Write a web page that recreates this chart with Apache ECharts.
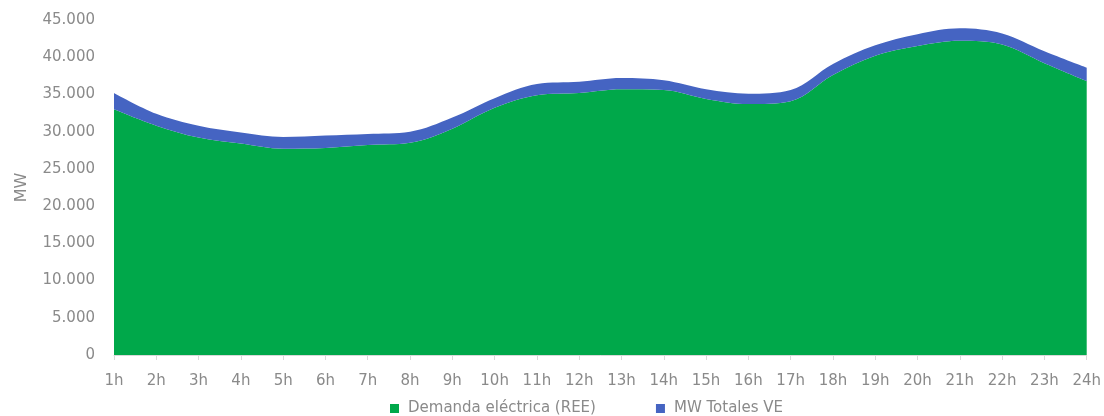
<!DOCTYPE html>
<html>
<head>
<meta charset="utf-8">
<script src="https://cdn.jsdelivr.net/npm/echarts@6/dist/echarts.min.js"></script>
<style>
  html, body { margin: 0; padding: 0; background: #fff; }
  #chart { width: 1104px; height: 416px; }
</style>
</head>
<body>
<div id="chart"></div>
<script>
// horas del día
const hours = ['1h', '2h', '3h', '4h', '5h', '6h', '7h', '8h', '9h', '10h', '11h', '12h',
  '13h', '14h', '15h', '16h', '17h', '18h', '19h', '20h', '21h', '22h', '23h', '24h']
// demanda eléctrica (REE), MW
const demanda = [33000, 30800, 29200, 28400, 27700, 27800, 28200, 28500, 30400, 33200, 34900, 35200,
  35700, 35600, 34400, 33700, 34100, 37600, 40200, 41500, 42200, 41700, 39200, 36800]
// MW totales VE (se apila encima)
const totalesVE = [2200, 1600, 1600, 1500, 1600, 1700, 1500, 1500, 1500, 1300, 1500, 1500,
  1500, 1300, 1300, 1400, 1500, 1500, 1400, 1600, 1700, 1500, 1600, 1800]

const chart = echarts.init(document.getElementById('chart'))

// formato español: 45.000
function miles(v) {
  return String(v).replace(/\B(?=(\d{3})+(?!\d))/g, '.')
}

const txt = '#8a8a8a'
const fuente = '"DejaVu Sans", sans-serif'

const option = {
  animation: false,
  textStyle: { fontFamily: fuente },
  grid: { left: 114, right: 16, top: 20, bottom: 61 },
  legend: {
    left: 385,
    top: 396,
    icon: 'rect',
    itemWidth: 9,
    itemHeight: 9,
    itemGap: 60,
    textStyle: { color: txt, fontSize: 15, fontFamily: fuente, padding: [0, 0, 0, 4] },
    data: ['Demanda eléctrica (REE)', 'MW Totales VE']
  },
  xAxis: {
    type: 'category',
    boundaryGap: false,
    data: hours,
    axisLine: { lineStyle: { color: '#d9d9d9' } },
    axisTick: { show: true, length: 5, lineStyle: { color: '#d9d9d9' } },
    axisLabel: { color: txt, fontSize: 15, margin: 19, fontFamily: fuente }
  },
  yAxis: {
    type: 'value',
    min: 0,
    max: 45000,
    interval: 5000,
    name: 'MW',
    nameLocation: 'middle',
    nameGap: 84,
    nameTextStyle: { color: txt, fontSize: 16, fontFamily: fuente },
    splitLine: { show: false },
    axisLine: { show: false },
    axisTick: { show: false },
    axisLabel: { color: txt, fontSize: 15, margin: 19, fontFamily: fuente, formatter: miles }
  },
  series: [
    {
      name: 'Demanda eléctrica (REE)',
      type: 'line',
      stack: 'total',
      smooth: 0.35,
      symbol: 'none',
      lineStyle: { width: 0 },
      itemStyle: { color: '#00a84a' },
      areaStyle: { color: '#00a84a', opacity: 1 },
      data: demanda
    },
    {
      name: 'MW Totales VE',
      type: 'line',
      stack: 'total',
      smooth: 0.35,
      symbol: 'none',
      lineStyle: { width: 0 },
      itemStyle: { color: '#4564c2' },
      areaStyle: { color: '#4564c2', opacity: 1 },
      data: totalesVE
    }
  ]
}
option && chart.setOption(option)
</script>
</body>
</html>
